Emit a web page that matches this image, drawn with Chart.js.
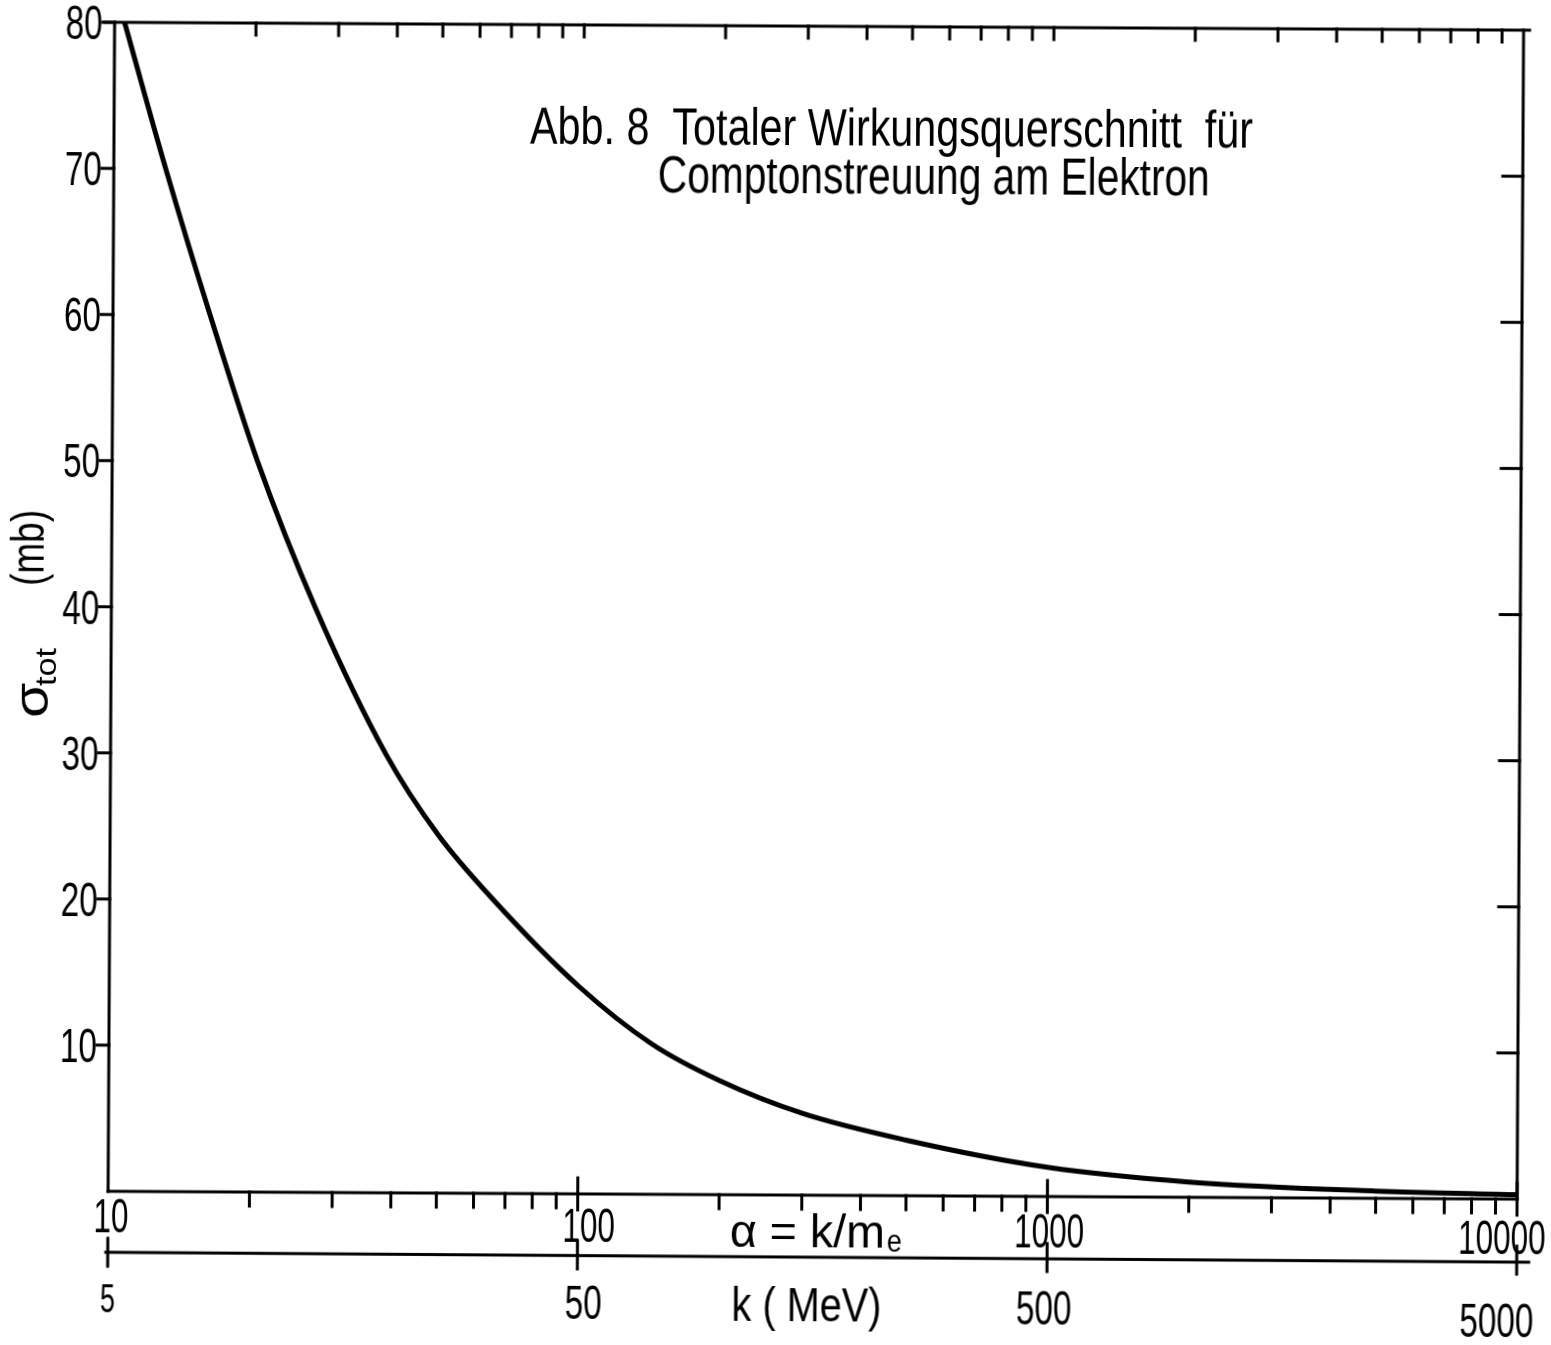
<!DOCTYPE html>
<html>
<head>
<meta charset="utf-8">
<script src="https://cdn.jsdelivr.net/npm/chart.js@4.4.1/dist/chart.umd.min.js"></script>
<style>
  html, body { margin: 0; padding: 0; background: #fff; overflow: hidden; }
  #caja { width: 1551px; height: 1345px; }
  #Grafico { transform: rotate(0.32deg); transform-origin: 50% 50%; }
</style>
</head>
<body>
<div id="caja"><canvas id="Grafico" width="1551" height="1345"></canvas></div>
<script>
// valores: alpha = k/m_e y sigma_tot en mb
const alpha = [10.5, 12.9, 16.1, 20.4, 27.2, 38.6, 50, 66, 100, 143, 200, 300, 500, 1000, 2000, 5000, 10000];
const sigma = [80, 70, 60, 50, 40, 30, 24.5, 20, 14.2, 10.3, 7.8, 5.6, 3.8, 2.0, 1.05, 0.5, 0.3];

const alphaTicks = [10, 100, 1000, 10000];
const kTicks = [5, 50, 500, 5000];
const sigmaTicks = [10, 20, 30, 40, 50, 60, 70, 80];

const FONT = '"Liberation Sans", Arial, sans-serif';

// texto comprimido horizontalmente hasta el ancho pedido
function texto(ctx, s, x, y, size, ancho, align) {
  ctx.save();
  ctx.font = size + 'px ' + FONT;
  ctx.textBaseline = 'alphabetic';
  ctx.textAlign = 'left';
  let m = ctx.measureText(s).width;
  let sx = ancho / m;
  let x0 = x;
  if (align === 'center') x0 = x - ancho / 2;
  if (align === 'right') x0 = x - ancho;
  ctx.translate(x0, y);
  ctx.scale(sx, 1);
  ctx.fillText(s, 0, 0);
  ctx.restore();
}

function textoVertical(ctx, s, x, y, size, largo) {
  ctx.save();
  ctx.font = size + 'px ' + FONT;
  ctx.textBaseline = 'alphabetic';
  ctx.translate(x, y);
  ctx.rotate(-Math.PI / 2);
  let m = ctx.measureText(s).width;
  ctx.scale(largo / m, 1);
  ctx.fillText(s, 0, 0);
  ctx.restore();
}

function linea(ctx, x1, y1, x2, y2) {
  ctx.beginPath();
  ctx.moveTo(x1, y1);
  ctx.lineTo(x2, y2);
  ctx.stroke();
}

const ejes = {
  id: 'ejes',
  afterDraw(chart) {
    const ctx = chart.ctx;
    const x = chart.scales.x;
    const y = chart.scales.y;
    const k = chart.scales.k;
    const a = chart.chartArea;
    ctx.save();
    ctx.strokeStyle = '#000';
    ctx.fillStyle = '#000';
    ctx.lineWidth = 3;
    ctx.lineCap = 'square';

    // marco
    linea(ctx, a.left - 10, a.top, a.right + 6, a.top);
    linea(ctx, a.left, a.top, a.left, a.bottom);
    linea(ctx, a.right, a.top, a.right, a.bottom);
    linea(ctx, a.left, a.bottom, a.right, a.bottom);

    // marcas del eje y (izquierda y derecha)
    sigmaTicks.forEach(v => {
      let py = y.getPixelForValue(v);
      linea(ctx, a.left - 12, py, a.left, py);
      if (v < 80) linea(ctx, a.right - 20, py, a.right, py);
      texto(ctx, String(v), a.left - 12, py + 17, 48, 18.5 * String(v).length, 'right');
    });

    // marcas logaritmicas arriba y abajo
    for (let dec = 10; dec < 10000; dec *= 10) {
      for (let m = 2; m <= 9; m++) {
        let px = x.getPixelForValue(m * dec);
        linea(ctx, px, a.bottom, px, a.bottom + 14);
        linea(ctx, px, a.top, px, a.top + 12);
      }
    }
    alphaTicks.forEach((v, i) => {
      let px = x.getPixelForValue(v);
      if (i > 0) linea(ctx, px, a.bottom - 16, px, a.bottom + 16);
      if (i > 0 && i < 3) linea(ctx, px, a.top, px, a.top + 12);
    });

    // etiquetas alpha
    const offA = [3, 11, 2, -15];
    const baseA = [1236, 1243, 1246, 1250];
    alphaTicks.forEach((v, i) => {
      let s = String(v);
      texto(ctx, s, x.getPixelForValue(v) + offA[i], baseA[i], 48, 17.5 * s.length, 'center');
    });

    // segundo eje: k (MeV)
    const yk = 1256;
    linea(ctx, a.left - 2, yk, a.right + 12, yk + 2);
    kTicks.forEach(v => {
      let px = k.getPixelForValue(v);
      linea(ctx, px, yk - 14, px, yk + 14);
    });
    const offK = [0, 6, -3, -20];
    const baseK = [1316, 1320, 1323, 1333];
    kTicks.forEach((v, i) => {
      let s = String(v);
      texto(ctx, s, k.getPixelForValue(v) + offK[i], baseK[i], i === 0 ? 40 : 48, (i === 0 ? 15 : 18.5) * s.length, 'center');
    });

    // titulos de los ejes
    texto(ctx, 'α = k/m', 733, 1247, 46, 155, 'left');
    texto(ctx, 'e', 890, 1251, 32, 15, 'left');
    texto(ctx, 'k ( MeV)', 735, 1321, 48, 150, 'left');

    textoVertical(ctx, 'σ', 48, 722, 48, 35);
    textoVertical(ctx, 'tot', 56, 690, 30, 38);
    textoVertical(ctx, '(mb)', 43, 590, 46, 76);

    // titulo
    texto(ctx, 'Abb. 8  Totaler Wirkungsquerschnitt  für', 527, 145, 51, 723, 'left');
    texto(ctx, 'Comptonstreuung am Elektron', 655, 193, 51, 552, 'left');

    ctx.restore();
  }
};

const puntos = alpha.map((v, i) => ({ x: v, y: sigma[i] }));

const config = {
  type: 'line',
  data: {
    datasets: [{
      data: puntos,
      borderColor: '#000',
      borderWidth: 5,
      pointRadius: 0,
      fill: false,
      cubicInterpolationMode: 'monotone',
      xAxisID: 'x',
      yAxisID: 'y'
    }]
  },
  options: {
    responsive: false,
    devicePixelRatio: 1,
    animation: false,
    layout: { padding: { top: 26, right: 31, left: 0, bottom: 0 } },
    plugins: {
      legend: { display: false },
      tooltip: { enabled: false }
    },
    scales: {
      x: {
        type: 'logarithmic',
        position: 'bottom',
        min: 10,
        max: 10000,
        ticks: { display: false },
        grid: { display: false },
        border: { display: false },
        afterFit(s) { s.height = 150; }
      },
      k: {
        type: 'logarithmic',
        position: 'bottom',
        min: 5,
        max: 5000,
        display: false
      },
      y: {
        type: 'linear',
        min: 0,
        max: 80,
        ticks: { display: false },
        grid: { display: false },
        border: { display: false },
        afterFit(s) { s.width = 111; }
      }
    }
  },
  plugins: [ejes]
};

const myChart = new Chart(document.getElementById('Grafico'), config);
</script>
</body>
</html>
